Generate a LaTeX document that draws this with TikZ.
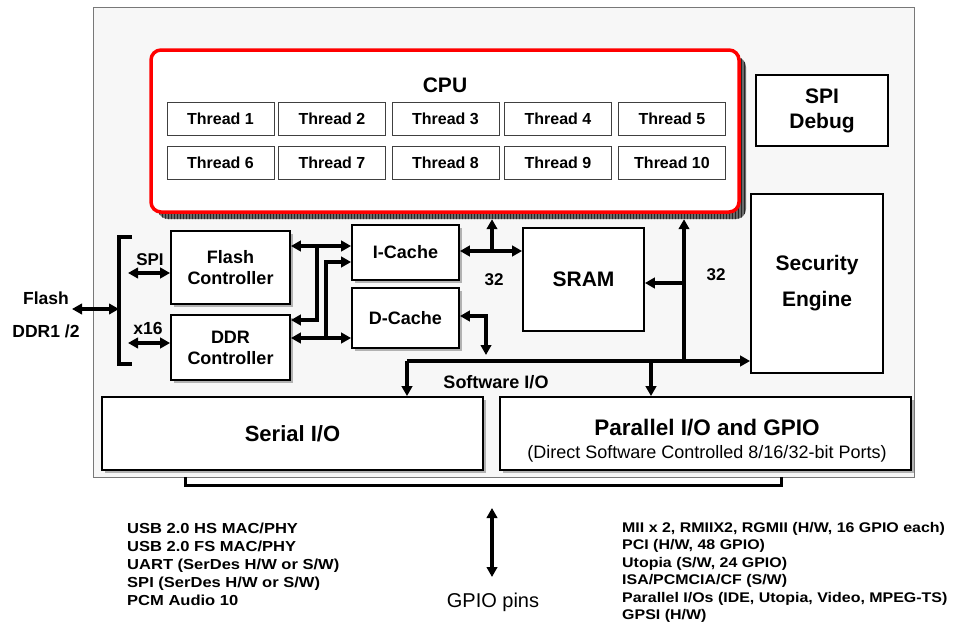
\documentclass[tikz,border=0pt]{standalone}
\usepackage{fontspec}
\setmainfont{Liberation Sans}
\newfontfamily\listfont[FakeStretch=1.14]{Liberation Sans}
\usetikzlibrary{arrows.meta,shadows,patterns,calc}
\definecolor{bgray}{RGB}{247,247,247}
\definecolor{edgegray}{RGB}{120,120,120}
\begin{document}
\begin{tikzpicture}[x=1pt,y=-1pt,
  >={Triangle[length=10pt,width=10.5pt]},
  box/.style={draw=black, line width=1.8pt, fill=white, inner sep=0pt, align=center},
  shad/.style={drop shadow={shadow xshift=2.5pt, shadow yshift=-2.5pt, fill=gray!60, opacity=1}},
  thr/.style={draw=black!75, line width=1pt, fill=white, minimum width=107pt, minimum height=33pt, inner sep=0pt, font=\fontsize{16}{18}\selectfont\bfseries},
  lbl/.style={inner sep=0pt, align=center},
  conn/.style={line width=3.2pt, ->},
  biconn/.style={line width=3.2pt, <->}
]
\useasboundingbox (0,0) rectangle (962,637);

% outer chip
\node[draw=edgegray, line width=1pt, fill=bgray, minimum width=821pt, minimum height=470pt, inner sep=0pt] (outer) at (503.5,242) {};

% CPU with hatched shadow
\node[fill=black!58, rounded corners=10pt, minimum width=588pt, minimum height=162pt, inner sep=0pt] (cpushadow) at (452,138) {};
\fill[pattern=vertical lines, pattern color=black!85, rounded corners=10pt] (cpushadow.south west) rectangle (cpushadow.north east);
\node[draw=red, line width=3.5pt, fill=white, rounded corners=10pt, minimum width=588pt, minimum height=162pt, inner sep=0pt] (cpu) at (445,131) {};
\node[lbl, font=\fontsize{21}{24}\selectfont\bfseries] (cpulbl) at (445,85) {CPU};

\node[thr] (t1) at (220.5,118.5) {Thread 1};
\node[thr] (t2) at (332,118.5) {Thread 2};
\node[thr] (t3) at (445.5,118.5) {Thread 3};
\node[thr] (t4) at (558,118.5) {Thread 4};
\node[thr] (t5) at (672,118.5) {Thread 5};
\node[thr] (t6) at (220.5,162.5) {Thread 6};
\node[thr] (t7) at (332,162.5) {Thread 7};
\node[thr] (t8) at (445.5,162.5) {Thread 8};
\node[thr] (t9) at (558,162.5) {Thread 9};
\node[thr] (t10) at (672,162.5) {Thread 10};

% blocks
\node[box, minimum width=132pt, minimum height=71pt, font=\fontsize{21}{25}\selectfont\bfseries] (spidbg) at (822,110.5) {SPI\\Debug};
\node[box, minimum width=132pt, minimum height=179pt, font=\fontsize{21}{36}\selectfont\bfseries] (sec) at (817,283.5) {Security\\Engine};
\node[box, shad, minimum width=119pt, minimum height=73pt, font=\fontsize{18}{21}\selectfont\bfseries] (flash) at (230.5,267.5) {Flash\\Controller};
\node[box, shad, minimum width=119pt, minimum height=65pt, font=\fontsize{18}{21}\selectfont\bfseries] (ddr) at (230.5,347.5) {DDR\\Controller};
\node[box, shad, minimum width=107pt, minimum height=55pt, font=\fontsize{18}{21}\selectfont\bfseries] (icache) at (405.5,252.5) {I-Cache};
\node[box, shad, minimum width=107pt, minimum height=60pt, font=\fontsize{18}{21}\selectfont\bfseries] (dcache) at (405.5,318) {D-Cache};
\node[box, minimum width=121pt, minimum height=103pt, font=\fontsize{21}{24}\selectfont\bfseries] (sram) at (583.5,279.5) {SRAM};
\node[box, shad, minimum width=381pt, minimum height=73pt, font=\fontsize{22}{26}\selectfont\bfseries] (serial) at (292.5,433.5) {Serial I/O};
\node[box, shad, minimum width=411pt, minimum height=73pt] (par) at (705.5,433.5) {};
\node[lbl, font=\fontsize{22.5}{26}\selectfont\bfseries] (partitle) at (707,428) {Parallel I/O and GPIO};
\node[lbl, font=\fontsize{18}{21}\selectfont] (parsub) at (707,454) {(Direct Software Controlled 8/16/32-bit Ports)};

% external bracket and pins
\coordinate (brT) at (119,237);
\coordinate (brB) at (119,364);
\draw[line width=3.5pt] ($(brT)+(13,0)$) -- (brT) -- (brB) -- ($(brB)+(13,0)$);
\coordinate (ext) at (72,309);
\draw[biconn] (ext) -- (ext -| brT);
\node[lbl, font=\fontsize{17.5}{20}\selectfont\bfseries] (flashlbl) at (46,298) {Flash};
\node[lbl, font=\fontsize{17.5}{20}\selectfont\bfseries] (ddrlbl) at (46,331) {DDR1 /2};

\coordinate (spiL) at (128,273);
\draw[biconn] (spiL) -- (spiL -| flash.west);
\node[lbl, font=\fontsize{17}{20}\selectfont\bfseries] (spilbl) at (150,260) {SPI};
\coordinate (xL) at (128,343);
\draw[biconn] (xL) -- (xL -| ddr.west);
\node[lbl, font=\fontsize{17.5}{20}\selectfont\bfseries] (x16lbl) at (148,328) {x16};

% controller <-> cache
\draw[biconn] (flash.east |- 0,246) -- (icache.west |- 0,246);
\coordinate (j1) at (317,246);
\draw[conn] (j1) -- (j1 |- 0,320) -- (ddr.east |- 0,320);
\draw[biconn] (ddr.east |- 0,338) -- (dcache.west |- 0,338);
\coordinate (j2) at (326,338);
\draw[conn] (j2) -- (j2 |- 0,262) -- (icache.west |- 0,262);

% cache <-> SRAM / CPU
\draw[biconn] (icache.east |- 0,251) -- (sram.west |- 0,251);
\coordinate (j3) at (492,251);
\draw[conn] (j3) -- (j3 |- cpushadow.south);
\node[lbl, font=\fontsize{17}{20}\selectfont\bfseries] (w32a) at (494,280) {32};
\coordinate (dcdown) at (486,355);
\draw[biconn] (dcache.east |- 0,316) -- (dcdown |- 0,316) -- (dcdown);

% software I/O bus
\coordinate (busL) at (407,361);
\draw[conn] (busL) -- (busL -| sec.west);
\draw[conn] (busL) -- (busL |- serial.north);
\coordinate (j4) at (651,361);
\draw[conn] (j4) -- (j4 |- par.north);
\coordinate (j5) at (684,361);
\draw[conn] (j5) -- (j5 |- cpushadow.south);
\coordinate (j6) at (684,283);
\draw[conn] (j6) -- (sram.east |- j6);
\node[lbl, font=\fontsize{17}{20}\selectfont\bfseries] (w32b) at (716,275) {32};
\node[lbl, font=\fontsize{18}{20}\selectfont\bfseries] (swio) at (496,382) {Software I/O};

% bottom bracket and GPIO pins
\coordinate (bbL) at (185,477);
\coordinate (bbR) at (781,477);
\draw[line width=3pt] (bbL) -- ++(0,8) -| (bbR);
\coordinate (gT) at (492,508);
\coordinate (gB) at (492,577);
\draw[biconn] (gT) -- (gB);
\node[lbl, font=\fontsize{20}{22}\selectfont] (gpiolbl) at (493,602) {GPIO pins};

\node[lbl, anchor=north west, align=left, font=\listfont\bfseries\fontsize{14.5}{18}\selectfont] (serlist) at (127,523)
  {USB 2.0 HS MAC/PHY\\USB 2.0 FS MAC/PHY\\UART (SerDes H/W or S/W)\\SPI (SerDes H/W or S/W)\\PCM Audio 10};
\node[lbl, anchor=north west, align=left, font=\listfont\bfseries\fontsize{14}{17.5}\selectfont] (parlist) at (622,522)
  {MII x 2, RMIIX2, RGMII (H/W, 16 GPIO each)\\PCI (H/W, 48 GPIO)\\Utopia (S/W, 24 GPIO)\\ISA/PCMCIA/CF (S/W)\\Parallel I/Os (IDE, Utopia, Video, MPEG-TS)\\GPSI (H/W)};
\end{tikzpicture}
\end{document}
